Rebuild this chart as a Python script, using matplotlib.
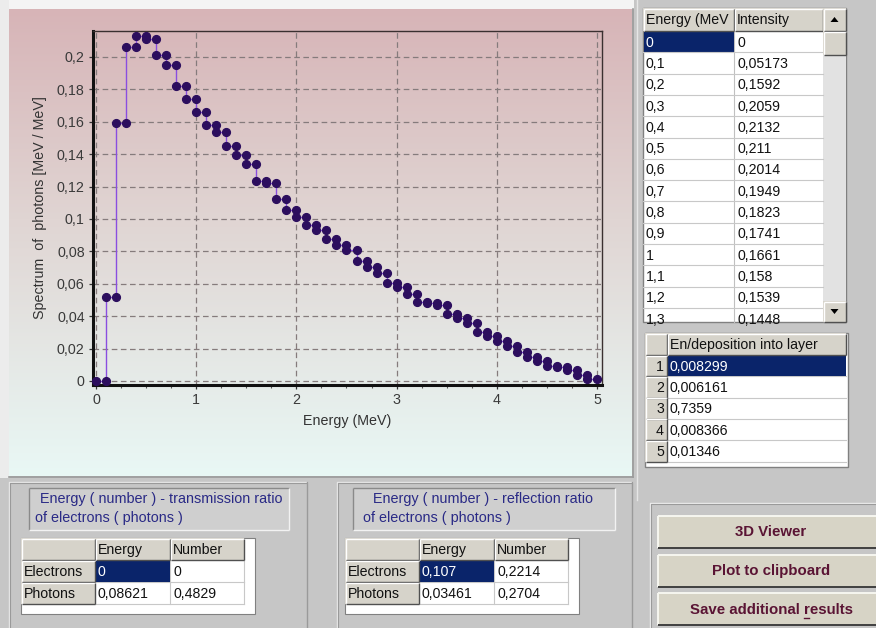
import numpy as np
import matplotlib
matplotlib.use('Agg')
import matplotlib.pyplot as plt
from matplotlib.patches import Rectangle, Polygon
from matplotlib.ticker import FuncFormatter, MultipleLocator

# ---------------- data ----------------
energies = [0.0, 0.1, 0.2, 0.3, 0.4, 0.5, 0.6, 0.7, 0.8, 0.9,
            1.0, 1.1, 1.2, 1.3, 1.4, 1.5, 1.6, 1.7, 1.8, 1.9,
            2.0, 2.1, 2.2, 2.3, 2.4, 2.5, 2.6, 2.7, 2.8, 2.9,
            3.0, 3.1, 3.2, 3.3, 3.4, 3.5, 3.6, 3.7, 3.8, 3.9,
            4.0, 4.1, 4.2, 4.3, 4.4, 4.5, 4.6, 4.7, 4.8, 4.9]
energy_max = 5.0
intensity = [0, 0.05173, 0.1592, 0.2059, 0.2132, 0.211, 0.2014, 0.1949, 0.1823, 0.1741,
             0.1661, 0.158, 0.1539, 0.1448, 0.1395, 0.134, 0.1235, 0.1219, 0.1123, 0.1055,
             0.101, 0.0962, 0.093, 0.0877, 0.0841, 0.0806, 0.0742, 0.0705, 0.0668, 0.0606,
             0.0582, 0.0538, 0.0487, 0.0482, 0.0467, 0.0412, 0.039, 0.0355, 0.0301, 0.0275,
             0.0245, 0.0216, 0.0179, 0.015, 0.0123, 0.0092, 0.0086, 0.0066, 0.0035, 0.001]
deposition = [0.008299, 0.006161, 0.7359, 0.008366, 0.01346]
row_names = ['Electrons', 'Photons']
col_names = ['Energy', 'Number']
trans_energy = [0, 0.08621]
trans_number = [0, 0.4829]
refl_energy = [0.107, 0.03461]
refl_number = [0.2214, 0.2704]
buttons = ['3D Viewer', 'Plot to clipboard', 'Save additional results']

def fmt(v):
    return ('%.4g' % v).replace('.', ',')

# ---------------- figure ----------------
W, H = 876, 628
fig = plt.figure(figsize=(W / 100, H / 100), dpi=100)
fig.patch.set_facecolor('#c6c6c6')
FONT = 'Liberation Sans'
TS = 10.2   # table font size

bg = fig.add_axes([0, 0, 1, 1])
bg.set_xlim(0, W)
bg.set_ylim(H, 0)
bg.axis('off')

def rect(x0, y0, x1, y1, fc, ec='none', lw=0.8, z=1):
    r = Rectangle((x0, y0), x1 - x0, y1 - y0, facecolor=fc, edgecolor=ec, lw=lw, zorder=z)
    bg.add_patch(r)
    return r

def bevel(x0, y0, x1, y1, light='white', dark='#505050', lw=1.0, z=3):
    bg.plot([x0, x1], [y0, y0], color=light, lw=lw, zorder=z, solid_capstyle='butt')
    bg.plot([x0, x0], [y0, y1], color=light, lw=lw, zorder=z, solid_capstyle='butt')
    bg.plot([x0, x1], [y1, y1], color=dark, lw=lw, zorder=z, solid_capstyle='butt')
    bg.plot([x1, x1], [y0, y1], color=dark, lw=lw, zorder=z, solid_capstyle='butt')

def txt(x, y, s, size=TS, color='#111111', ha='left', weight='normal', clip=None, z=5):
    t = bg.text(x, y, s, fontsize=size, color=color, ha=ha, va='center',
                family=FONT, weight=weight, zorder=z)
    if clip is not None:
        t.set_clip_path(clip)
    return t

# top white strip and left light strip
rect(0, 0, 634, 9, '#f4f4f4')
rect(0, 0, 9, 478, '#ececec')

# chart panel gradient
stops_pos = [0.0, 0.45, 1.0]
stops_col = [(215, 180, 183), (224, 213, 211), (233, 248, 245)]
n = 300
t = np.linspace(0, 1, n)
grad = np.zeros((n, 1, 3))
for c in range(3):
    grad[:, 0, c] = np.interp(t, stops_pos, [s[c] / 255 for s in stops_col])
bg.imshow(grad, extent=(9, 632, 476, 9), aspect='auto', zorder=0.5, interpolation='bilinear')
bg.plot([632.5, 632.5], [9, 477], color='#9a9a9a', lw=1.2, zorder=2)
bg.plot([9, 633], [476.5, 476.5], color='#9a9a9a', lw=1.2, zorder=2)
bg.plot([636.5, 636.5], [0, 500], color='#e6e6e6', lw=1.0, zorder=2)

# ---------------- chart ----------------
ax = fig.add_axes([93 / W, (H - 385) / H, 509 / W, 354 / H])
ax.set_facecolor('none')
ax.set_xlim(-0.03, 5.05)
ax.set_ylim(-0.0025, 0.216)

edges = list(energies) + [energy_max]
xs, ys = [], []
for i, v in enumerate(intensity):
    xs += [edges[i], edges[i + 1]]
    ys += [v, v]
ax.plot(xs, ys, color='#8a4ee0', lw=1.0, marker='o', ms=5.6,
        mfc='#2c0e5e', mec='#2c0e5e', zorder=5, clip_on=False)

ax.set_xticks(range(0, 6))
ax.xaxis.set_minor_locator(MultipleLocator(0.25))
ax.set_yticks(np.arange(0, 0.2001, 0.02))
ax.yaxis.set_major_formatter(FuncFormatter(lambda v, p: ('%g' % round(v, 4)).replace('.', ',')))
ax.xaxis.set_major_formatter(FuncFormatter(lambda v, p: '%g' % v))
ax.grid(True, which='major', color='#857b7c', lw=0.9, linestyle=(0, (4.5, 2.8)))
ax.tick_params(axis='both', which='major', direction='out', length=3, width=0.9,
               color='#333333', labelsize=10.3, labelcolor='#3a3a3a', pad=3)
ax.tick_params(axis='x', which='minor', direction='out', length=2, width=0.8, color='#555555')
ax.tick_params(axis='y', which='minor', left=False)
for lab in ax.get_xticklabels() + ax.get_yticklabels():
    lab.set_family(FONT)
for s in ['left', 'bottom']:
    ax.spines[s].set_linewidth(2.2)
    ax.spines[s].set_color('#111111')
for s in ['top', 'right']:
    ax.spines[s].set_linewidth(1.0)
    ax.spines[s].set_color('#3a3030')
ax.set_xlabel('Energy (MeV)', fontsize=10.3, color='#333333', family=FONT)
ax.set_ylabel('Spectrum  of  photons [MeV / MeV]', fontsize=10.3, color='#333333', family=FONT)
ax.xaxis.set_label_coords(0.5, -0.082)
ax.yaxis.set_label_coords(-0.09, 0.5)

# ---------------- right spectrum table ----------------
tx0, tx1, tcol, tsb, ty0, ty1 = 643, 846, 734, 823, 8, 322
rh = 21.3
rect(tx0, ty0, tx1, ty1, 'white', ec='#808080', lw=1.0, z=1)
# header
rect(tx0, ty0, tcol, ty0 + 23, '#d6d3ca', z=2)
rect(tcol, ty0, tsb, ty0 + 23, '#d6d3ca', z=2)
bevel(tx0 + 0.5, ty0 + 0.5, tcol, ty0 + 23)
bevel(tcol + 0.5, ty0 + 0.5, tsb, ty0 + 23)
txt(tx0 + 3, ty0 + 12, 'Energy (MeV', clip=Rectangle((tx0, ty0), tcol - tx0, 23, transform=bg.transData))
txt(tcol + 3, ty0 + 12, 'Intensity')
ry = ty0 + 23
for i, (e, v) in enumerate(zip(energies, intensity)):
    top = ry + i * rh
    if top > ty1:
        break
    if i == 0:
        rect(tx0 + 1, top + 0.5, tcol, top + rh - 0.5, '#0a246a', z=2)
    c1 = 'white' if i == 0 else '#111111'
    cl = Rectangle((tx0, ty0), tsb - tx0, ty1 - ty0 - 2, transform=bg.transData)
    txt(tx0 + 3, top + rh / 2 + 1, ('%g' % e).replace('.', ','), color=c1, clip=cl)
    cl2 = Rectangle((tx0, ty0), tsb - tx0, ty1 - ty0 - 2, transform=bg.transData)
    txt(tcol + 3, top + rh / 2 + 1, fmt(v), clip=cl2)
    if top + rh < ty1:
        bg.plot([tx0, tsb], [top + rh, top + rh], color='#c8c8c8', lw=0.8, zorder=3)
bg.plot([tcol, tcol], [ty0, ty1], color='#c0c0c0', lw=0.8, zorder=1.5)
# scrollbar
rect(tsb, ty0, tx1, ty1, '#e2e2e2', z=2)
for (a, b) in [(ty0, ty0 + 23), (ty0 + 23, ty0 + 47), (ty1 - 21, ty1)]:
    rect(tsb, a, tx1, b, '#d6d3ca', z=3)
    bevel(tsb + 0.5, a + 0.5, tx1 - 0.5, b - 0.5, z=4)
cx = (tsb + tx1) / 2
bg.add_patch(Polygon([[cx - 4, ty0 + 14], [cx + 4, ty0 + 14], [cx, ty0 + 9]], closed=True, fc='black', ec='none', zorder=5))
bg.add_patch(Polygon([[cx - 4, ty1 - 13], [cx + 4, ty1 - 13], [cx, ty1 - 8]], closed=True, fc='black', ec='none', zorder=5))

# ---------------- deposition table ----------------
dx0, dxh, dx1, dy0 = 645, 667, 848, 333
rect(dx0, dy0, dx1, 467, 'white', ec='#808080', lw=1.0, z=1)
rect(dx0, dy0, dx1 - 2, dy0 + 22, '#d6d3ca', z=2)
bevel(dx0 + 0.5, dy0 + 0.5, dxh, dy0 + 22)
bevel(dxh + 0.5, dy0 + 0.5, dx1 - 2, dy0 + 22)
txt(dxh + 3, dy0 + 12, 'En/deposition into layer')
for i, v in enumerate(deposition):
    top = dy0 + 22 + i * rh
    rect(dx0, top, dxh, top + rh, '#d6d3ca', z=2)
    bevel(dx0 + 0.5, top + 0.5, dxh, top + rh)
    txt(dxh - 3, top + rh / 2 + 1, str(i + 1), ha='right')
    if i == 0:
        rect(dxh + 1, top + 0.5, dx1 - 2, top + rh - 0.5, '#0a246a', z=2)
    txt(dxh + 2, top + rh / 2 + 1, fmt(v), color='white' if i == 0 else '#111111')
    bg.plot([dxh, dx1 - 2], [top + rh, top + rh], color='#c8c8c8', lw=0.8, zorder=1.5)

# ---------------- bottom panels ----------------
def ratio_panel(gx0, gx1, lx0, lx1, title1, title2, t1x, t2x, tbx0, cols, vals_e, vals_n):
    bg.plot([gx0, gx0, gx1], [628, 482, 482], color='#e8e8e8', lw=1.0, zorder=2)
    bg.plot([gx0 + 1, gx0 + 1, gx1 - 1], [628, 483, 483], color='#9a9a9a', lw=0.8, zorder=2)
    bg.plot([gx1, gx1], [482, 628], color='#9a9a9a', lw=1.0, zorder=2)
    rect(lx0, 488, lx1, 530, '#cfcfcf', z=2)
    bevel(lx0, 488, lx1, 530, light='#8a8a8a', dark='#f2f2f2', lw=1.0)
    txt(t1x, 499, title1, size=10.4, color='#2a2a86')
    txt(t2x, 518, title2, size=10.4, color='#2a2a86')
    c0, c1, c2, c3 = tbx0, tbx0 + 74, tbx0 + 149, tbx0 + 223
    rect(c0, 538, c3 + 11, 614, 'white', ec='#808080', lw=0.8, z=1)
    rect(c0, 538, c3, 560, '#d6d3ca', z=2)
    bevel(c0 + 0.5, 538.5, c1, 560)
    bevel(c1 + 0.5, 538.5, c2, 560)
    bevel(c2 + 0.5, 538.5, c3, 560)
    txt(c1 + 3, 550, cols[0])
    txt(c2 + 3, 550, cols[1])
    for r, name in enumerate(row_names):
        top = 560 + r * 22
        rect(c0, top, c1, top + 22, '#d6d3ca', z=2)
        bevel(c0 + 0.5, top + 0.5, c1, top + 22)
        txt(c0 + 3, top + 12, name)
        if r == 0:
            rect(c1 + 1, top + 0.5, c2, top + 21.5, '#0a246a', z=2)
        txt(c1 + 3, top + 12, fmt(vals_e[r]), color='white' if r == 0 else '#111111')
        txt(c2 + 3, top + 12, fmt(vals_n[r]))
        bg.plot([c1, c3], [top + 22, top + 22], color='#c8c8c8', lw=0.8, zorder=1.5)
        bg.plot([c2, c2], [top, top + 22], color='#c8c8c8', lw=0.8, zorder=1.5)
        bg.plot([c3, c3], [top, top + 22], color='#c8c8c8', lw=0.8, zorder=1.5)

ratio_panel(9, 307, 29, 289, 'Energy ( number ) - transmission ratio', 'of electrons ( photons )',
            40, 35, 21, col_names, trans_energy, trans_number)
ratio_panel(337, 632, 353, 615, 'Energy ( number ) - reflection ratio', 'of electrons ( photons )',
            373, 363, 345, col_names, refl_energy, refl_number)

# ---------------- buttons ----------------
bg.plot([650, 650, 876], [628, 503, 503], color='#ececec', lw=1.0, zorder=2)
bg.plot([651, 651, 876], [628, 504, 504], color='#9a9a9a', lw=0.8, zorder=2)
btn_texts = []
for i, label in enumerate(buttons):
    top = 516 + i * 38.5
    rect(658, top, 876, top + 32, '#d7d4c6', z=2)
    bevel(658, top, 880, top + 32, light='#f6f6f0', dark='#404040', lw=1.4)
    btn_texts.append(txt(771, top + 16.5, label, size=10.8, color='#5a1434', ha='center', weight='bold'))

# underline the accelerator letter "r" of "results"
fig.canvas.draw()
rend = fig.canvas.get_renderer()
last = btn_texts[-1]
bb = last.get_window_extent(rend)
label = buttons[-1]
k = label.index('results')
pre = bg.text(0, 0, label[:k + 1], fontsize=10.8, weight='bold', family=FONT)
only = bg.text(0, 0, label[k], fontsize=10.8, weight='bold', family=FONT)
w_pre = pre.get_window_extent(rend).width
w_r = only.get_window_extent(rend).width
pre.remove(); only.remove()
x_r0 = bb.x0 + w_pre - w_r
ybase = H - bb.y0
bg.plot([x_r0, x_r0 + w_r], [ybase + 1, ybase + 1], color='#5a1434', lw=1.0, zorder=6)

fig.savefig('out.png', dpi=100, facecolor=fig.get_facecolor())
